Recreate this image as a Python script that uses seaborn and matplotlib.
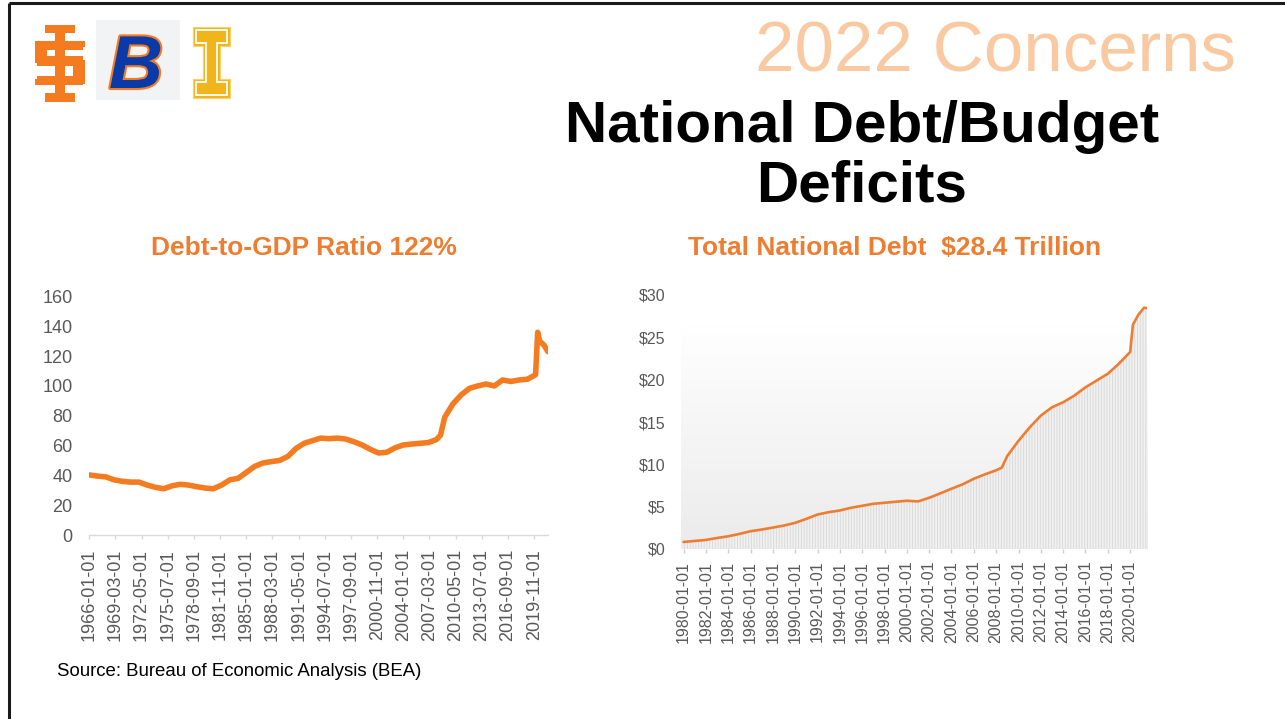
import numpy as np
import pandas as pd
import matplotlib
matplotlib.use("Agg")
import matplotlib.pyplot as plt
import matplotlib.dates as mdates
import matplotlib.patheffects as pe
from matplotlib.colors import LinearSegmentedColormap
from matplotlib.patches import Rectangle, Polygon
from matplotlib.ticker import FuncFormatter
import seaborn as sns

# Debt-to-GDP ratio (%)
ratio_dates = ['1966-01', '1967-01', '1968-01', '1969-01', '1970-01', '1971-01', '1972-01',
               '1973-01', '1974-01', '1975-01', '1976-01', '1977-01', '1978-01', '1979-01',
               '1980-01', '1981-01', '1982-01', '1983-01', '1984-01', '1985-01', '1986-01',
               '1987-01', '1988-01', '1989-01', '1990-01', '1991-01', '1992-01', '1993-01',
               '1994-01', '1995-01', '1996-01', '1997-01', '1998-01', '1999-01', '2000-01',
               '2001-01', '2002-01', '2003-01', '2004-01', '2005-01', '2006-01', '2007-01',
               '2008-01', '2008-07', '2009-01', '2010-01', '2011-01', '2012-01', '2013-01',
               '2014-01', '2015-01', '2016-01', '2017-01', '2018-01', '2019-01', '2020-01',
               '2020-04', '2020-07', '2021-01', '2021-07']
ratio_values = [40.3, 39.5, 39.0, 37.0, 36.0, 35.5, 35.5,
                33.5, 32.0, 31.0, 33.0, 34.0, 33.5, 32.4,
                31.5, 31.0, 33.5, 37.0, 38.0, 42.0, 46.0,
                48.3, 49.2, 50.0, 52.6, 58.0, 61.5, 63.3,
                65.0, 64.6, 65.0, 64.4, 62.6, 60.4, 57.5,
                55.0, 55.5, 58.5, 60.4, 61.0, 61.5, 62.0,
                64.0, 67.0, 79.0, 88.0, 94.0, 98.4, 100.0,
                101.3, 100.0, 104.0, 103.0, 104.0, 104.5, 107.5,
                136.0, 130.0, 127.5, 123.0]
ratio_ticks = ['1966-01-01', '1969-03-01', '1972-05-01', '1975-07-01', '1978-09-01',
               '1981-11-01', '1985-01-01', '1988-03-01', '1991-05-01', '1994-07-01',
               '1997-09-01', '2000-11-01', '2004-01-01', '2007-03-01', '2010-05-01',
               '2013-07-01', '2016-09-01', '2019-11-01']

# Total national debt ($ trillion)
debt_dates = ['1980-01', '1981-01', '1982-01', '1983-01', '1984-01', '1985-01', '1986-01',
              '1987-01', '1988-01', '1989-01', '1990-01', '1991-01', '1992-01', '1993-01',
              '1994-01', '1995-01', '1996-01', '1997-01', '1998-01', '1999-01', '2000-01',
              '2001-01', '2002-01', '2003-01', '2004-01', '2005-01', '2006-01', '2007-01',
              '2008-01', '2008-07', '2009-01', '2010-01', '2011-01', '2012-01', '2013-01',
              '2014-01', '2015-01', '2016-01', '2017-01', '2018-01', '2019-01', '2020-01',
              '2020-04', '2020-10', '2021-04', '2021-07']
debt_values = [0.83, 0.95, 1.07, 1.30, 1.50, 1.78, 2.10,
               2.30, 2.53, 2.77, 3.09, 3.56, 4.07, 4.35,
               4.55, 4.87, 5.10, 5.34, 5.46, 5.58, 5.70,
               5.62, 6.05, 6.57, 7.12, 7.64, 8.30, 8.82,
               9.30, 9.60, 11.0, 12.78, 14.36, 15.75, 16.74,
               17.33, 18.12, 19.10, 19.90, 20.70, 21.90, 23.27,
               26.50, 27.70, 28.50, 28.45]
debt_ticks = ['1980-01-01', '1982-01-01', '1984-01-01', '1986-01-01', '1988-01-01',
              '1990-01-01', '1992-01-01', '1994-01-01', '1996-01-01', '1998-01-01',
              '2000-01-01', '2002-01-01', '2004-01-01', '2006-01-01', '2008-01-01',
              '2010-01-01', '2012-01-01', '2014-01-01', '2016-01-01', '2018-01-01',
              '2020-01-01']

ratio_df = pd.DataFrame({'date': pd.to_datetime(ratio_dates), 'ratio': ratio_values})
debt_df = pd.DataFrame({'date': pd.to_datetime(debt_dates), 'debt': debt_values})

sns.set_theme(style='white')
plt.rcParams['font.family'] = ['Liberation Sans', 'DejaVu Sans']

W, H = 1285, 719
fig = plt.figure(figsize=(W / 100, H / 100), dpi=100)
fig.patch.set_facecolor('white')

# overlay in pixel coordinates for the slide decorations
ov = fig.add_axes([0, 0, 1, 1])
ov.set_xlim(0, W)
ov.set_ylim(H, 0)
ov.axis('off')
ov.patch.set_visible(False)

# slide frame
ov.plot([9, W], [3, 3], color='#1a1a1a', lw=2.2, solid_capstyle='butt')
ov.plot([9, 9], [3, H], color='#1a1a1a', lw=2.2, solid_capstyle='butt')

# logos (rough)
orange = '#F47B20'
for x, y, w, h in [(45, 25, 30, 8), (55, 25, 10, 77), (45, 93, 30, 9),
                   (37, 41, 46, 9), (35, 41, 12, 22), (37, 56, 46, 10),
                   (73, 60, 12, 24), (37, 76, 46, 9), (73, 41, 12, 6), (35, 79, 12, 6)]:
    ov.add_patch(Rectangle((x, y), w, h, color=orange, lw=0))
ov.add_patch(Rectangle((96, 20), 84, 80, color='#F2F3F5', lw=0))
ov.text(136, 88, 'B', fontsize=54, fontweight='bold', fontstyle='italic', color='#0A3AA8',
        ha='center', va='baseline',
        path_effects=[pe.Stroke(linewidth=3, foreground=orange), pe.Normal()])
outer_I = [(193, 27), (230, 27), (230, 46), (220, 46), (220, 79), (230, 79), (230, 98),
           (193, 98), (193, 79), (203, 79), (203, 46), (193, 46)]
inner_I = [(196, 30), (227, 30), (227, 43), (217, 43), (217, 82), (227, 82), (227, 95),
           (196, 95), (196, 82), (206, 82), (206, 43), (196, 43)]
ov.add_patch(Polygon(outer_I, closed=True, facecolor='#F1B51C', edgecolor='#F6D36B', lw=0.8))
ov.add_patch(Polygon(inner_I, closed=True, facecolor='#F1B51C', edgecolor='white', lw=1.3))

# slide titles
ov.text(995, 72, '2022 Concerns', fontsize=51, color='#F9C9A1', ha='center', va='baseline')
ov.text(862, 142, 'National Debt/Budget', fontsize=42, fontweight='bold', color='black',
        ha='center', va='baseline')
ov.text(862, 201, 'Deficits', fontsize=42, fontweight='bold', color='black',
        ha='center', va='baseline')
ov.text(304, 255, 'Debt-to-GDP Ratio 122%', fontsize=19, fontweight='bold', color='#ED7D31',
        ha='center', va='baseline')
ov.text(895, 255, 'Total National Debt  $28.4 Trillion', fontsize=19, fontweight='bold',
        color='#ED7D31', ha='center', va='baseline')
ov.text(57, 676, 'Source: Bureau of Economic Analysis (BEA)', fontsize=13.4, color='black',
        ha='left', va='baseline')

grey_txt = '#595959'

# ---- left chart: debt-to-GDP
ax1 = fig.add_axes([89.3 / W, 1 - 535 / H, (548.3 - 89.3) / W, (535 - 296.5) / H])
sns.lineplot(data=ratio_df, x='date', y='ratio', ax=ax1, color=orange, linewidth=4.0)
ax1.set_xlim(pd.Timestamp('1966-01-01'), pd.Timestamp('2021-07-15'))
ax1.set_ylim(0, 160)
ax1.set_yticks(range(0, 161, 20))
ax1.set_xticks(pd.to_datetime(ratio_ticks))
ax1.set_xticklabels(ratio_ticks, rotation=90)
ax1.tick_params(axis='y', length=0, pad=12, labelsize=13, labelcolor=grey_txt)
ax1.tick_params(axis='x', length=3, width=1, color='#d9d9d9', pad=7, labelsize=13,
                labelcolor=grey_txt, bottom=True)
for s in ['top', 'right', 'left']:
    ax1.spines[s].set_visible(False)
ax1.spines['bottom'].set_color('#d9d9d9')
ax1.spines['bottom'].set_linewidth(1)
ax1.set_xlabel('')
ax1.set_ylabel('')
ax1.grid(False)

# ---- right chart: total national debt
ax2 = fig.add_axes([680.7 / W, 1 - 549 / H, (1147.3 - 680.7) / W, (549 - 295) / H])
x0, x1 = pd.Timestamp('1979-10-01'), pd.Timestamp('2021-07-15')
cmap = LinearSegmentedColormap.from_list('bg', ['#ffffff', '#ebebeb'])
ax2.imshow(np.linspace(0, 1, 256).reshape(-1, 1), cmap=cmap, aspect='auto',
           extent=[mdates.date2num(x0), mdates.date2num(x1), 0, 26.7], zorder=0)
plt.rcParams['hatch.linewidth'] = 0.7
ax2.fill_between(debt_df['date'], 0, debt_df['debt'], facecolor='#f1f1f1',
                 edgecolor='#dadada', hatch='||||||', linewidth=0, zorder=1)
sns.lineplot(data=debt_df, x='date', y='debt', ax=ax2, color='#ED7D31', linewidth=1.9, zorder=3)
ax2.set_xlim(x0, x1)
ax2.set_ylim(0, 30)
ax2.set_yticks(range(0, 31, 5))
ax2.yaxis.set_major_formatter(FuncFormatter(lambda v, p: f'${v:.0f}'))
ax2.set_xticks(pd.to_datetime(debt_ticks))
ax2.set_xticklabels(debt_ticks, rotation=90)
ax2.tick_params(axis='y', length=0, pad=11, labelsize=11.5, labelcolor=grey_txt)
ax2.tick_params(axis='x', length=3, width=1, color='#cfcfcf', pad=5.5, labelsize=11.5,
                labelcolor=grey_txt, bottom=True)
for s in ['top', 'right', 'left', 'bottom']:
    ax2.spines[s].set_visible(False)
ax2.set_xlabel('')
ax2.set_ylabel('')
ax2.grid(False)

fig.savefig('out.png', dpi=100)
